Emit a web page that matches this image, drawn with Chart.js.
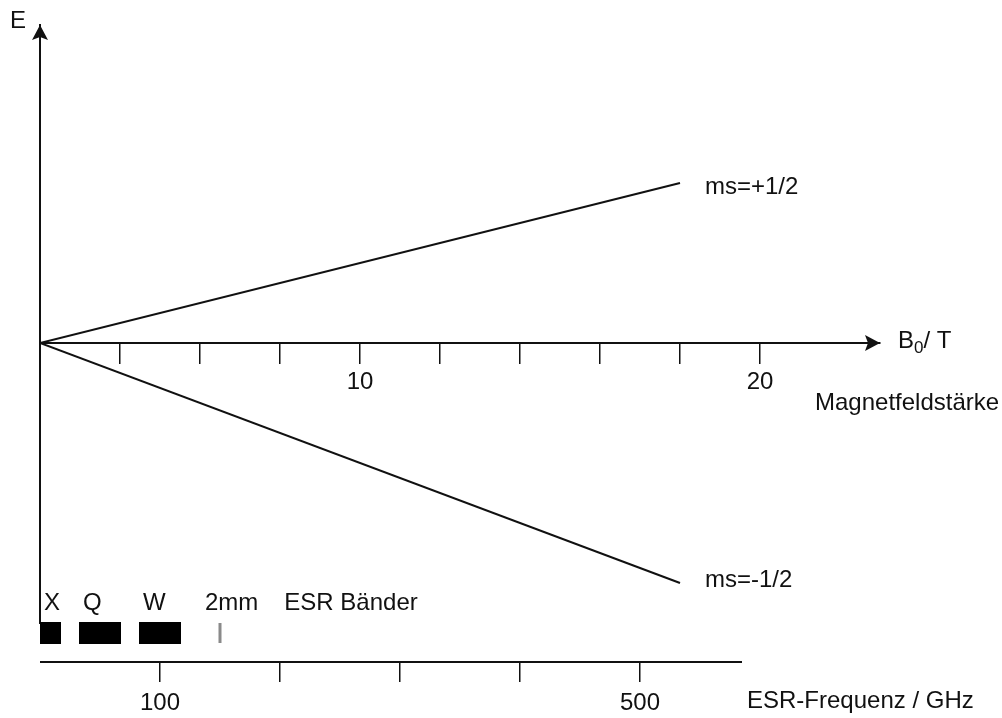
<!DOCTYPE html>
<html>
<head>
<meta charset="utf-8">
<script src="https://cdn.jsdelivr.net/npm/chart.js@4.4.1/dist/chart.umd.min.js"></script>
<style>
  html, body { margin: 0; padding: 0; background: #fff; }
  #wrap { width: 1002px; height: 718px; }
</style>
</head>
<body>
<div id="wrap"><canvas id="zeemanChart"></canvas></div>
<script>
// magnetic field B0 (T) where the two spin levels start and end
var field = [2, 18];
// energy of the two levels (arbitrary units)
var energyUp = [0, 4];
var energyDown = [0, -6];
var levelNames = ["ms=+1/2", "ms=-1/2"];

// B0 axis: tick marks, and the ones that get a number
var fieldTicks = [4, 6, 8, 10, 12, 14, 16, 18, 20];
var fieldLabels = [10, 20];

// ESR frequency axis in GHz
var freqTicks = [100, 200, 300, 400, 500];
var freqLabels = [100, 500];
var freqEnd = 585;

// ESR bands (GHz), a band with from == to is drawn as a small mark
var bandNames = ["X", "Q", "W", "2mm"];
var bandFrom = [0, 32.5, 82.5, 150];
var bandTo = [17.5, 67.5, 117.5, 150];

var ink = "#111";
var fontFamily = "'Liberation Sans', Arial, Helvetica, sans-serif";
var bandRow = -7.25;   // E value the band bars sit on
var freqRow = -7.975;  // E value of the frequency axis

function pts(xs, ys) {
  return xs.map(function (x, i) { return { x: x, y: ys[i] }; });
}

var datasets = [
  { label: levelNames[0], data: pts(field, energyUp) },
  { label: levelNames[1], data: pts(field, energyDown) }
].map(function (d) {
  d.showLine = true;
  d.borderColor = ink;
  d.borderWidth = 2;
  d.pointRadius = 0;
  return d;
});

bandNames.forEach(function (name, i) {
  var mark = bandFrom[i] === bandTo[i];
  datasets.push({
    label: name,
    xAxisID: "x2",
    showLine: true,
    data: mark ? pts([bandFrom[i], bandFrom[i]], [-7.0, -7.5])
               : pts([bandFrom[i], bandTo[i]], [bandRow, bandRow]),
    borderColor: mark ? "#8a8a8a" : "#000",
    borderWidth: mark ? 3 : 22,
    borderCapStyle: "butt",
    pointRadius: 0,
    clip: false
  });
});

function arrowHead(ctx, x, y, dir) {
  ctx.beginPath();
  if (dir === "up") {
    ctx.moveTo(x, y);
    ctx.lineTo(x - 8, y + 15);
    ctx.lineTo(x, y + 12);
    ctx.lineTo(x + 8, y + 15);
  } else {
    ctx.moveTo(x, y);
    ctx.lineTo(x - 15, y - 8);
    ctx.lineTo(x - 12, y);
    ctx.lineTo(x - 15, y + 8);
  }
  ctx.closePath();
  ctx.fill();
}

var decor = {
  id: "decor",
  afterDraw: function (chart) {
    var ctx = chart.ctx, a = chart.chartArea;
    var sx = chart.scales.x, sy = chart.scales.y, s2 = chart.scales.x2;
    var ox = sx.getPixelForValue(field[0]), oy = sy.getPixelForValue(0);
    var fy = sy.getPixelForValue(freqRow);
    ctx.save();
    ctx.fillStyle = ink;
    ctx.strokeStyle = ink;

    arrowHead(ctx, ox, a.top, "up");
    arrowHead(ctx, a.right, oy, "right");

    // frequency axis line
    ctx.lineWidth = 2;
    ctx.beginPath();
    ctx.moveTo(s2.getPixelForValue(0), fy);
    ctx.lineTo(s2.getPixelForValue(freqEnd), fy);
    ctx.stroke();

    ctx.font = "24px " + fontFamily;
    ctx.textBaseline = "middle";

    // axis names
    ctx.textAlign = "right";
    ctx.fillText("E", ox - 14, a.top - 4);
    ctx.textAlign = "left";
    var bx = a.right + 18;
    ctx.fillText("B", bx, oy - 2);
    bx += ctx.measureText("B").width;
    ctx.font = "17px " + fontFamily;
    ctx.fillText("0", bx, oy + 5);
    bx += ctx.measureText("0").width;
    ctx.font = "24px " + fontFamily;
    ctx.fillText("/ T", bx, oy - 2);
    ctx.fillText("Magnetfeldstärke", a.right - 65, oy + 60);
    ctx.fillText("ESR-Frequenz / GHz", s2.getPixelForValue(freqEnd) + 5, fy + 39);

    // level names at the line ends
    var ends = [energyUp[1], energyDown[1]];
    levelNames.forEach(function (name, i) {
      ctx.fillText(name, sx.getPixelForValue(field[1]) + 25, sy.getPixelForValue(ends[i]) + (i === 0 ? 4 : -3));
    });

    // band names
    var ly = sy.getPixelForValue(bandRow) - 30;
    var lastRight = 0;
    bandNames.forEach(function (name, i) {
      var px = s2.getPixelForValue(bandFrom[i]);
      var lx = bandFrom[i] === bandTo[i] ? px - 15 : px + 4;
      ctx.fillText(name, lx, ly);
      lastRight = lx + ctx.measureText(name).width;
    });
    ctx.fillText("ESR Bänder", lastRight + 26, ly);
    ctx.restore();
  }
};

var tickFont = { family: fontFamily, size: 24 };

new Chart(document.getElementById("zeemanChart"), {
  type: "scatter",
  data: { datasets: datasets },
  options: {
    responsive: true,
    maintainAspectRatio: false,
    animation: false,
    layout: { padding: { left: 40, top: 25, right: 122, bottom: 95 } },
    plugins: { legend: { display: false }, tooltip: { enabled: false } },
    scales: {
      x: {
        type: "linear", min: 2, max: 23,
        position: { y: 0 },
        afterBuildTicks: function (s) {
          s.ticks = fieldTicks.map(function (v) { return { value: v }; });
        },
        border: { display: true, color: ink, width: 2 },
        grid: { display: true, drawOnChartArea: false, drawTicks: true, tickLength: 20, color: ink, lineWidth: 1.5 },
        ticks: {
          autoSkip: false, maxRotation: 0, padding: 5, color: ink, font: tickFont,
          callback: function (v) { return fieldLabels.indexOf(v) >= 0 ? String(v) : ""; }
        }
      },
      x2: {
        type: "linear", min: 0, max: 700,
        position: { y: freqRow },
        afterBuildTicks: function (s) {
          s.ticks = freqTicks.map(function (v) { return { value: v }; });
        },
        border: { display: false },
        grid: { display: true, drawOnChartArea: false, drawTicks: true, tickLength: 20, color: ink, lineWidth: 1.5 },
        ticks: {
          autoSkip: false, maxRotation: 0, padding: 7, color: ink, font: tickFont,
          callback: function (v) { return freqLabels.indexOf(v) >= 0 ? String(v) : ""; }
        }
      },
      y: {
        type: "linear", min: -7, max: 7.95,
        position: { x: 2 },
        border: { display: true, color: ink, width: 2 },
        grid: { display: false },
        ticks: { display: false }
      }
    }
  },
  plugins: [decor]
});
</script>
</body>
</html>
